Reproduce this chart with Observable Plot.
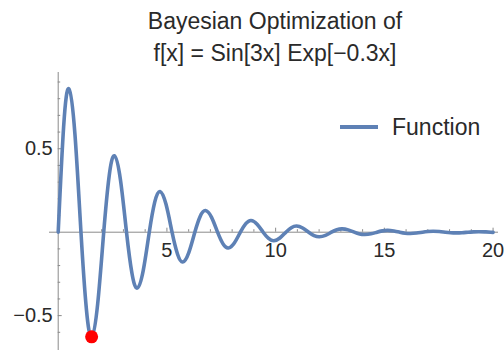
<!DOCTYPE html>
<html>
<head>
<meta charset="utf-8">
<script src="https://cdn.jsdelivr.net/npm/d3@7"></script>
<script src="https://cdn.jsdelivr.net/npm/@observablehq/plot@0.6"></script>
<style>
  body { margin: 0; background: #fff; }
  #wrap { position: relative; width: 504px; height: 350px; font-family: "Liberation Sans", Arial, sans-serif; color: #2a2a2a; }
  #wrap svg { position: absolute; left: 0; top: 0; }
  #title { position: absolute; left: 75px; top: 5px; width: 400px; text-align: center; font-size: 23px; line-height: 32px; white-space: nowrap; }
  #legend { position: absolute; left: 340px; top: 113px; height: 28px; display: flex; align-items: center; }
  #legend .sw { width: 38px; height: 3.5px; background: #5E81B5; margin-right: 14px; }
  #legend .lb { font-size: 23px; line-height: 28px; }
</style>
</head>
<body>
<div id="wrap">
  <div id="title">Bayesian Optimization of<br>f[x] = Sin[3x] Exp[−0.3x]</div>
  <div id="legend"><div class="sw"></div><div class="lb">Function</div></div>
</div>
<script>
// Curve samples
const xs = [
  0, 0.25, 0.49, 0.77,
  1.047, 1.297, 1.537, 1.817,
  2.094, 2.344, 2.584, 2.864,
  3.142, 3.392, 3.632, 3.912,
  4.189, 4.439, 4.679, 4.959,
  5.236, 5.486, 5.726, 6.006,
  6.283, 6.533, 6.773, 7.053,
  7.330, 7.580, 7.820, 8.100,
  8.378, 8.628, 8.868, 9.148,
  9.425, 9.675, 9.915, 10.195,
  10.472, 10.722, 10.962, 11.242,
  11.519, 11.769, 12.009, 12.289,
  12.566, 12.816, 13.056, 13.336,
  13.614, 13.864, 14.104, 14.384,
  14.661, 14.911, 15.151, 15.431,
  15.708, 15.958, 16.198, 16.478,
  16.755, 17.005, 17.245, 17.525,
  17.802, 18.052, 18.292, 18.572,
  18.850, 19.100, 19.340, 19.620,
  19.897, 20
];
const ys = [
  0, 0.632, 0.859, 0.587,
  0, -0.462, -0.627, -0.428,
  0, 0.337, 0.458, 0.313,
  0, -0.246, -0.335, -0.229,
  0, 0.180, 0.244, 0.167,
  0, -0.131, -0.179, -0.122,
  0, 0.096, 0.130, 0.089,
  0, -0.070, -0.095, -0.065,
  0, 0.051, 0.070, 0.048,
  0, -0.037, -0.051, -0.035,
  0, 0.027, 0.037, 0.025,
  0, -0.020, -0.027, -0.019,
  0, 0.015, 0.020, 0.014,
  0, -0.011, -0.014, -0.010,
  0, 0.008, 0.011, 0.007,
  0, -0.006, -0.008, -0.005,
  0, 0.004, 0.006, 0.004,
  0, -0.003, -0.004, -0.003,
  0, 0.002, 0.003, 0.002,
  0, -0.001
];
// Minimum point found
const minX = [1.537];
const minY = [-0.627];
// Ticks
const xMajor = [5, 10, 15, 20];
const xLabels = ["5", "10", "15", "20"];
const xMinor = [1, 2, 3, 4, 6, 7, 8, 9, 11, 12, 13, 14, 16, 17, 18, 19];
const yMajor = [-0.5, 0.5];
const yLabels = ["−0.5", "0.5"];
const yMinor = [-0.6, -0.4, -0.3, -0.2, -0.1, 0.1, 0.2, 0.3, 0.4, 0.6, 0.7, 0.8, 0.9];

const curveData = xs.map((x, i) => ({x, y: ys[i]}));
const minData = minX.map((x, i) => ({x, y: minY[i]}));

const axisColor = "#8a8a8a";
const labelColor = "#2a2a2a";
const font = "Liberation Sans, Arial, sans-serif";

const chart = Plot.plot({
  width: 504,
  height: 350,
  marginTop: 72,
  marginBottom: 0,
  marginLeft: 49,
  marginRight: 6,
  style: {fontFamily: font, background: "transparent", overflow: "visible"},
  x: {domain: [-0.4, 20.25], axis: null},
  y: {domain: [-0.709, 0.957], axis: null},
  marks: [
    Plot.ruleY([0], {stroke: axisColor, strokeWidth: 1}),
    Plot.ruleX([0], {stroke: axisColor, strokeWidth: 1}),
    Plot.ruleX(xMajor, {x: d => d, y1: 0, y2: 0, insetTop: -4, stroke: axisColor}),
    Plot.ruleX(xMinor, {x: d => d, y1: 0, y2: 0, insetTop: -2.5, stroke: axisColor}),
    Plot.ruleY(yMajor, {y: d => d, x1: 0, x2: 0, insetRight: -4, stroke: axisColor}),
    Plot.ruleY(yMinor, {y: d => d, x1: 0, x2: 0, insetRight: -2.5, stroke: axisColor}),
    Plot.text(xMajor, {x: d => d, y: 0, text: (d, i) => xLabels[i], dy: 18, fontSize: 20, fill: labelColor, fontFamily: font}),
    Plot.text(yMajor, {x: 0, y: d => d, text: (d, i) => yLabels[i], textAnchor: "end", dx: -5.5, fontSize: 20, fill: labelColor, fontFamily: font}),
    Plot.line(curveData, {x: "x", y: "y", stroke: "#5E81B5", strokeWidth: 3.6, curve: "natural"}),
    Plot.dot(minData, {x: "x", y: "y", r: 6.5, fill: "#ff0000", stroke: "none"})
  ]
});
document.getElementById("wrap").prepend(chart);
</script>
</body>
</html>
